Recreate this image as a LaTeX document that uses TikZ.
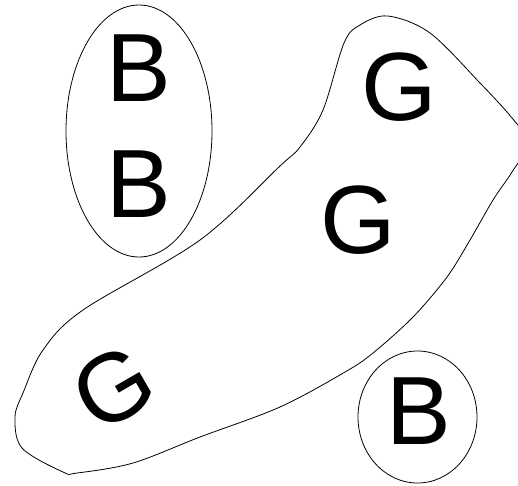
\documentclass[tikz,border=0pt]{standalone}
\usepackage{fontspec}
\setmainfont{Liberation Sans}
\begin{document}
\begin{tikzpicture}[x=1pt,y=-1pt,
  letter/.style={inner sep=0pt,outer sep=0pt,anchor=center,font=\fontsize{97}{100}\selectfont},
  group/.style={draw,line width=0.8pt}]
\useasboundingbox (0,0) rectangle (518,485);
\clip (0,0) rectangle (518,485);

% Letters
\node[letter] (b1) at (138.5,68) {B};
\node[letter] (b2) at (138.5,184) {B};
\node[letter] (g1) at (399.5,87) {G};
\node[letter] (g2) at (358.5,220) {G};
\node[letter,rotate=30] (g3) at (113,388) {G};
\node[letter] (b3) at (418.5,411.5) {B};

% Groups
\draw[group] (139,131) ellipse [x radius=73, y radius=126];
\draw[group] (417.5,417) ellipse [x radius=59.5, y radius=66];
\draw[group] plot[smooth cycle, tension=0.55] coordinates {
  (388,16) (430,33) (480,83) (512,118) (528,143) (512,172) (493,200)
  (470,240) (447,277) (413,317) (373,353) (345,372) (280,407) (200,437)
  (133,463) (77,473) (63,472) (22,448) (15,417) (23,393) (43,350)
  (83,310) (200,240) (280,166) (300,147) (323,110) (344,43) (360,25)};
\end{tikzpicture}
\end{document}
